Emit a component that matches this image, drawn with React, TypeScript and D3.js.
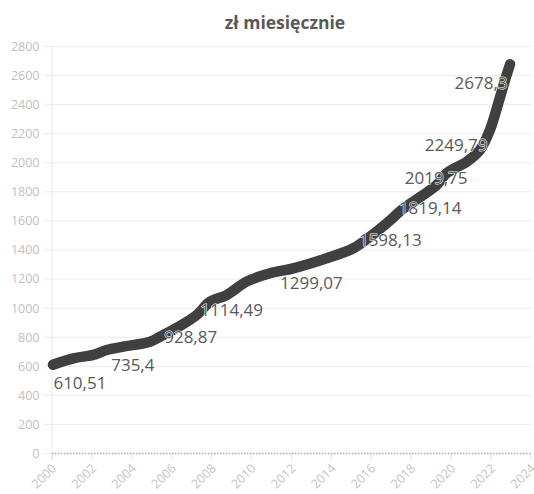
import * as d3 from "d3";
import React from "react";

const width = 534;
const height = 494;

// traced points of the smoothed line (fractional year, zł)
const years = [
  2000.05, 2001.07, 2002.07, 2002.74, 2003.57, 2004.91, 2005.41, 2006.41,
  2007.25, 2007.92, 2008.75, 2009.75, 2010.92, 2012.09, 2013.76, 2015.1,
  2015.93, 2016.77, 2017.6, 2018.44, 2019.27, 2019.77, 2020.78, 2021.44,
  2021.94, 2022.36, 2022.7, 2022.95,
];
const values = [
  611, 655, 678, 712, 735, 769, 803, 877, 953, 1044, 1090, 1182, 1240, 1274,
  1343, 1412, 1491, 1584, 1684, 1764, 1846, 1928, 2007, 2088, 2225, 2409, 2569,
  2678,
];

// data labels
const labelValues = [
  610.51, 735.4, 928.87, 1114.49, 1299.07, 1598.13, 1819.14, 2019.75, 2249.79,
  2678.3,
];
const labelYears = [
  2001.4, 2004.05, 2006.95, 2009, 2013, 2016.95, 2018.95, 2019.25, 2020.25,
  2021.5,
];

const yTicks = d3.range(0, 2801, 200);
const xTicks = d3.range(2000, 2025, 2);

const fmt = (v: number) => String(v).replace(".", ",");

export default function App() {
  const x = d3.scaleLinear().domain([2000, 2024]).range([52, 531]);
  const y = d3.scaleLinear().domain([0, 2800]).range([453.5, 46.5]);

  const line = d3
    .line<number>()
    .x((_, i) => x(years[i]))
    .y((d) => y(d))
    .curve(d3.curveCatmullRom.alpha(0.5));

  const font = "'Open Sans', sans-serif";

  return (
    <svg
      width={width}
      height={height}
      style={{ position: "absolute", left: 0, top: 0, background: "#fff" }}
    >
      <text
        x={285}
        y={29}
        textAnchor="middle"
        fontFamily={font}
        fontWeight="bold"
        fontSize={17.5}
        fill="#595959"
      >
        zł miesięcznie
      </text>

      {/* grid */}
      <g>
        {yTicks
          .filter((t) => t > 0)
          .map((t) => (
            <line
              key={t}
              x1={44}
              x2={531}
              y1={y(t)}
              y2={y(t)}
              stroke="#ebebeb"
              strokeWidth={1}
            />
          ))}
        <line x1={x(2000)} x2={x(2000)} y1={y(2800)} y2={460} stroke="#e6e6e6" />
        {xTicks.map((t) => (
          <line
            key={t}
            x1={x(t)}
            x2={x(t)}
            y1={y(0)}
            y2={460}
            stroke="#e6e6e6"
          />
        ))}
        <line x1={44} x2={x(2000)} y1={y(0)} y2={y(0)} stroke="#ebebeb" />
        <line
          x1={x(2000)}
          x2={531}
          y1={y(0)}
          y2={y(0)}
          stroke="#a6a6a6"
          strokeWidth={1.5}
          strokeDasharray="1.5 1.5"
        />
      </g>

      {/* y labels */}
      <g fontFamily={font} fontSize={12.5} fill="#bfbfbf" textAnchor="end">
        {yTicks.map((t) => (
          <text key={t} x={39.5} y={y(t)} dy="0.35em">
            {t}
          </text>
        ))}
      </g>

      {/* x labels */}
      <g fontFamily={font} fontSize={12.5} fill="#c4c4c4" textAnchor="end">
        {xTicks.map((t) => (
          <text
            key={t}
            transform={`translate(${x(t) + 2},${466}) rotate(-45)`}
            dy="0.35em"
          >
            {t}
          </text>
        ))}
      </g>

      <path
        d={line(values) ?? ""}
        fill="none"
        stroke="#404040"
        strokeWidth={10.5}
        strokeLinecap="round"
        strokeLinejoin="round"
      />

      <g
        fontFamily={font}
        fontSize={17}
        fill="#595959"
        textAnchor="middle"
        stroke="#fff"
        strokeWidth={1}
        style={{ paintOrder: "stroke" }}
      >
        {labelValues.map((v, i) => (
          <text key={v} x={x(labelYears[i])} y={y(v) + 18.5} dy="0.35em">
            {fmt(v)}
          </text>
        ))}
      </g>
    </svg>
  );
}
